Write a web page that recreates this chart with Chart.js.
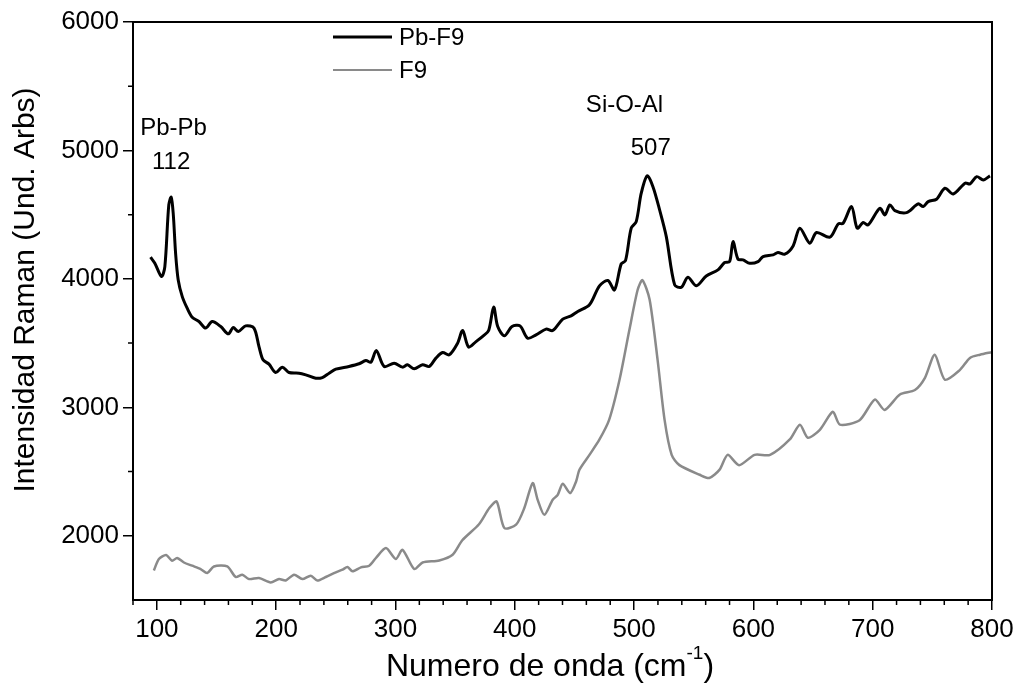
<!DOCTYPE html>
<html>
<head>
<meta charset="utf-8">
<script src="https://cdn.jsdelivr.net/npm/chart.js@4.4.1/dist/chart.umd.min.js"></script>
<style>
  body { margin: 0; background: #fff; }
  #wrap { width: 1019px; height: 693px; }
</style>
</head>
<body>
<div id="wrap"><canvas id="myChart"></canvas></div>
<script>
// Pb-F9 (black)
const pbX = [94.7, 98.3, 103.9, 106.7, 110, 112, 113.7, 115.7, 117.9, 121.3, 125.4, 129.6, 135.3, 140.9, 146.4, 153.5, 159.9, 164, 168.3, 174.4, 181.4, 185.6, 189, 194, 199.6, 205.2, 210.8, 219.2, 224.8, 233.2, 238.7, 244.4, 250, 261, 269.5, 275.2, 279.4, 284, 290.5, 298.9, 305.9, 310.1, 315.7, 322.7, 328.3, 333.9, 339.5, 345.1, 352.1, 356.3, 361.3, 367.5, 373.6, 378.1, 382.3, 385.7, 391.3, 397.7, 404.4, 410.8, 417.8, 426.2, 431.8, 440.2, 447.2, 452.8, 462.6, 471, 478, 483.6, 489.2, 492.8, 497.6, 501.8, 506, 511, 515.8, 521.4, 527, 534, 539.6, 545.1, 552.2, 560.5, 570.3, 575.9, 580.1, 582.9, 587.1, 591.3, 596.9, 603.9, 608.1, 616.5, 620.6, 626.3, 633.3, 638.9, 647.3, 652.9, 664.1, 671.1, 675.2, 682.3, 687, 692, 696.2, 706, 710.2, 714.4, 718.6, 728.4, 738.1, 742.3, 746.5, 753.5, 760.5, 767.5, 777.4, 781.5, 787.2, 792.7, 798.3];
const pbY = [4169, 4122, 4018, 4096, 4576, 4636, 4511, 4200, 3992, 3862, 3772, 3702, 3668, 3617, 3668, 3629, 3572, 3621, 3590, 3634, 3617, 3473, 3370, 3336, 3271, 3313, 3271, 3266, 3253, 3227, 3232, 3266, 3297, 3318, 3339, 3364, 3351, 3442, 3318, 3344, 3313, 3331, 3300, 3331, 3318, 3383, 3427, 3409, 3500, 3598, 3469, 3512, 3557, 3598, 3780, 3629, 3557, 3629, 3634, 3538, 3564, 3609, 3598, 3687, 3712, 3746, 3798, 3946, 3987, 3914, 4117, 4142, 4395, 4446, 4667, 4802, 4718, 4537, 4329, 3953, 3935, 4013, 3946, 4023, 4070, 4127, 4135, 4290, 4153, 4148, 4122, 4135, 4174, 4187, 4205, 4192, 4257, 4395, 4278, 4361, 4325, 4428, 4433, 4563, 4395, 4439, 4420, 4550, 4498, 4576, 4532, 4516, 4584, 4563, 4602, 4620, 4706, 4661, 4745, 4740, 4796, 4770, 4802];

// F9 (gray)
const f9X = [97.5, 101.7, 107.8, 112.8, 117, 122.7, 129.6, 136.7, 142.2, 147.8, 159, 166.1, 171.6, 177.2, 185.6, 195.4, 202.4, 208, 215, 222, 229, 234.5, 241.6, 250, 255.6, 259.8, 264, 271, 278, 283.6, 292, 300.3, 305.9, 315.7, 322.7, 336.7, 347.9, 356, 370, 378.7, 384.8, 391.3, 401.1, 408, 415, 419.2, 424.8, 431.8, 436, 440.2, 446.4, 451.4, 454.2, 462.6, 471, 479, 487.8, 496, 503, 507, 513, 519.7, 525.6, 531.5, 538, 555, 563, 571.7, 578.4, 588, 601, 614, 630.5, 639, 645.6, 655.7, 666.6, 672.5, 689, 701.8, 710, 722.8, 735.4, 743.8, 752, 760.5, 773, 781.5, 790, 800];
const f9Y = [1730, 1819, 1850, 1806, 1827, 1792, 1767, 1741, 1710, 1761, 1761, 1679, 1697, 1663, 1671, 1637, 1663, 1652, 1697, 1663, 1689, 1652, 1679, 1715, 1736, 1757, 1723, 1754, 1767, 1827, 1904, 1819, 1891, 1741, 1792, 1808, 1852, 1965, 2090, 2216, 2267, 2060, 2086, 2216, 2410, 2280, 2163, 2280, 2319, 2405, 2332, 2423, 2514, 2630, 2750, 2900, 3215, 3600, 3915, 3990, 3840, 3370, 2900, 2630, 2550, 2475, 2450, 2515, 2630, 2550, 2630, 2630, 2750, 2865, 2763, 2825, 2965, 2865, 2900, 3060, 2980, 3100, 3135, 3230, 3410, 3215, 3290, 3385, 3410, 3430];

const seriesNames = ['Pb-F9', 'F9'];
const xTicks = [100, 200, 300, 400, 500, 600, 700, 800];
const yTicks = [2000, 3000, 4000, 5000, 6000];
const xMinor = [80, 120, 140, 160, 180, 220, 240, 260, 280, 320, 340, 360, 380, 420, 440, 460, 480, 520, 540, 560, 580, 620, 640, 660, 680, 720, 740, 760, 780];
const yMinor = [2500, 3500, 4500, 5500];

// peak labels (data coords)
const peakLabels = [
  { text: 'Pb-Pb', x: 114, y: 5175 },
  { text: '112', x: 112, y: 4905 },
  { text: 'Si-O-Al', x: 492, y: 5350 },
  { text: '507', x: 514, y: 5015 }
];

const FONT = "'Liberation Sans', Arial, sans-serif";

function toPts(xs, ys) {
  return xs.map((x, i) => ({ x: x, y: ys[i] }));
}

const extras = {
  id: 'extras',
  afterDraw(chart) {
    const ctx = chart.ctx;
    const a = chart.chartArea;
    const sx = chart.scales.x, sy = chart.scales.y;
    ctx.save();
    // frame
    ctx.strokeStyle = '#000';
    ctx.lineWidth = 2;
    ctx.strokeRect(a.left, a.top, a.right - a.left, a.bottom - a.top);

    // minor ticks
    ctx.lineWidth = 1.5;
    ctx.beginPath();
    xMinor.forEach(v => {
      const p = sx.getPixelForValue(v);
      ctx.moveTo(p, a.bottom);
      ctx.lineTo(p, a.bottom + 5);
    });
    yMinor.forEach(v => {
      const p = sy.getPixelForValue(v);
      ctx.moveTo(a.left, p);
      ctx.lineTo(a.left - 5, p);
    });
    ctx.stroke();

    // axis titles
    ctx.fillStyle = '#000';
    ctx.textBaseline = 'middle';
    ctx.font = '32px ' + FONT;
    const t1 = 'Numero de onda (cm', sup = '-1', t2 = ')';
    const w1 = ctx.measureText(t1).width;
    ctx.font = '19px ' + FONT;
    const ws = ctx.measureText(sup).width;
    ctx.font = '32px ' + FONT;
    const w2 = ctx.measureText(t2).width;
    let tx = 550 - (w1 + ws + w2) / 2;
    const ty = 667;
    ctx.textAlign = 'left';
    ctx.fillText(t1, tx, ty);
    ctx.font = '19px ' + FONT;
    ctx.fillText(sup, tx + w1, ty - 13);
    ctx.font = '32px ' + FONT;
    ctx.fillText(t2, tx + w1 + ws, ty);

    ctx.save();
    ctx.translate(26, 290);
    ctx.rotate(-Math.PI / 2);
    ctx.textAlign = 'center';
    ctx.font = '30px ' + FONT;
    ctx.fillText('Intensidad Raman (Und. Arbs)', 0, 0);
    ctx.restore();

    // peak labels
    ctx.font = '24px ' + FONT;
    ctx.textAlign = 'center';
    peakLabels.forEach(l => {
      ctx.fillText(l.text, sx.getPixelForValue(l.x), sy.getPixelForValue(l.y));
    });

    // legend
    const ds = chart.data.datasets;
    const rows = [37, 70];
    ctx.font = '24px ' + FONT;
    ctx.textAlign = 'left';
    ds.forEach((d, i) => {
      ctx.strokeStyle = d.borderColor;
      ctx.lineWidth = i === 0 ? 3 : 2;
      ctx.beginPath();
      ctx.moveTo(333, rows[i]);
      ctx.lineTo(392, rows[i]);
      ctx.stroke();
      ctx.fillText(d.label, 399, rows[i] + 1);
    });
    ctx.restore();
  }
};

window.onload = function () {
  const data = {
    datasets: [{
      label: seriesNames[0],
      data: toPts(pbX, pbY),
      borderColor: '#000000',
      borderWidth: 3,
      pointRadius: 0,
      tension: 0.3
    }, {
      label: seriesNames[1],
      data: toPts(f9X, f9Y),
      borderColor: '#8a8a8a',
      borderWidth: 2.5,
      pointRadius: 0,
      tension: 0.25
    }]
  };

  const config = {
    type: 'line',
    data: data,
    options: {
      responsive: true,
      maintainAspectRatio: false,
      animation: false,
      layout: { padding: { top: 22, right: 27, left: 0, bottom: 0 } },
      plugins: {
        legend: { display: false },
        tooltip: { enabled: false }
      },
      scales: {
        x: {
          type: 'linear',
          min: 80,
          max: 800,
          afterBuildTicks: s => { s.ticks = xTicks.map(v => ({ value: v })); },
          afterFit: s => { s.height = 93; },
          ticks: {
            autoSkip: false, maxRotation: 0, padding: 4,
            color: '#000', font: { family: FONT, size: 26 },
            callback: v => String(v)
          },
          grid: { drawOnChartArea: false, drawTicks: true, tickLength: 10, color: '#000', lineWidth: 1.5 },
          border: { color: '#000', width: 2 }
        },
        y: {
          min: 1500,
          max: 6000,
          afterBuildTicks: s => { s.ticks = yTicks.map(v => ({ value: v })); },
          afterFit: s => { s.width = 133; },
          ticks: {
            autoSkip: false, padding: 4,
            color: '#000', font: { family: FONT, size: 26 },
            callback: v => String(v)
          },
          grid: { drawOnChartArea: false, drawTicks: true, tickLength: 10, color: '#000', lineWidth: 1.5 },
          border: { color: '#000', width: 2 }
        }
      }
    },
    plugins: [extras]
  };

  const myChart = new Chart(document.getElementById('myChart'), config);
};
</script>
</body>
</html>
